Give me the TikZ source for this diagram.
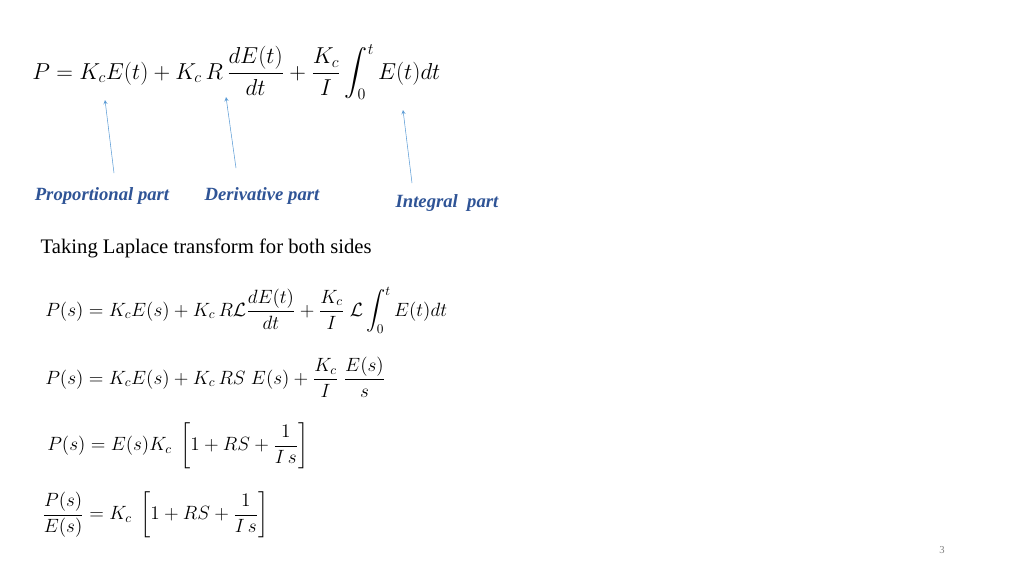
\documentclass[tikz,border=0pt]{standalone}
\usepackage{fontspec}
\usepackage{amsmath}
\setmainfont{Liberation Serif}
\definecolor{arrowblue}{RGB}{91,155,213}
\definecolor{labelblue}{RGB}{47,84,150}
\begin{document}
\begin{tikzpicture}[x=0.75pt,y=-0.75pt]
	\tikzset{
		eq/.style={anchor=west,inner sep=0,font=\fontsize{17.3}{20}\selectfont},
		eqs/.style={anchor=west,inner sep=0,font=\fontsize{14.5}{17}\selectfont},
		part label/.style={text=labelblue,font=\fontsize{14}{16}\selectfont\bfseries\itshape},
		part arrow/.style={draw=arrowblue,-stealth,thin}
	}
	\useasboundingbox (0,0) rectangle (1024,576);
	\node(eqmain)[eq] at (32,72){$P=K_cE(t)+K_c\,R\,\dfrac{dE(t)}{dt}+\dfrac{K_c}{I}\displaystyle\int_0^t E(t)dt$};
	\node(prop)[part label] at (102,196){Proportional part};
	\node(deriv)[part label] at (262,196){Derivative part};
	\node(integ)[part label] at (447,203){Integral\ \ part};
	\coordinate(ptip) at (105,100);
	\coordinate(dtip) at (226,97);
	\coordinate(itip) at (403,110);
	\draw[part arrow](114,173)to(ptip);
	\draw[part arrow](236,168)to(dtip);
	\draw[part arrow](412,183)to(itip);
	\node(taking)[anchor=west,font=\fontsize{15.5}{18}\selectfont] at (36,248){Taking Laplace transform for both sides};
	\node(eqa)[eqs] at (45,310){$P(s)=K_cE(s)+K_c\,R\mathcal{L}\dfrac{dE(t)}{dt}+\dfrac{K_c}{I}\;\mathcal{L}\displaystyle\int_0^t E(t)dt$};
	\node(eqb)[eqs] at (45,377){$P(s)=K_cE(s)+K_c\,RS\;E(s)+\dfrac{K_c}{I}\;\dfrac{E(s)}{s}$};
	\node(eqc)[eqs] at (47,446){$P(s)=E(s)K_c\;\left[1+RS+\dfrac{1}{I\,s}\right]$};
	\node(eqd)[eqs] at (42,515){$\dfrac{P(s)}{E(s)}=K_c\;\left[1+RS+\dfrac{1}{I\,s}\right]$};
	\node(pagenum)[text=gray,font=\fontsize{8}{9}\selectfont] at (942,550){3};
\end{tikzpicture}
\end{document}
